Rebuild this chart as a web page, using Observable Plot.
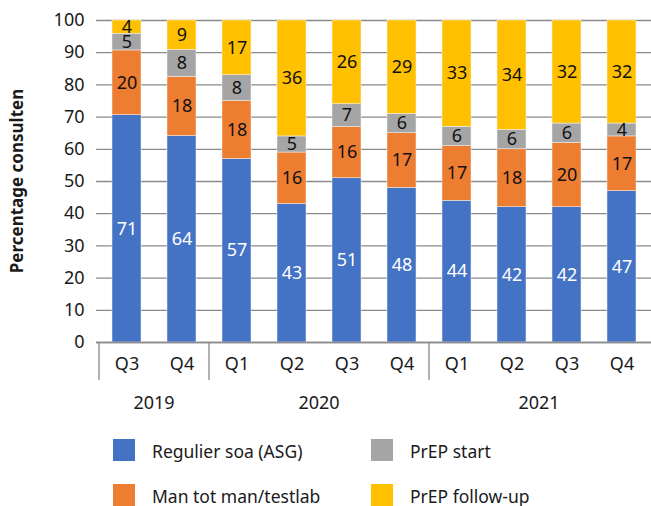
<!DOCTYPE html>
<html><head><meta charset="utf-8">
<script src="https://cdn.jsdelivr.net/npm/d3@7"></script>
<script src="https://cdn.jsdelivr.net/npm/@observablehq/plot@0.6"></script>
<style>body{margin:0;background:#fff;} svg{display:block;}</style>
</head><body><div id="chart"></div>
<script>
const quarters = ["Q3","Q4","Q1","Q2","Q3","Q4","Q1","Q2","Q3","Q4"];
const years = ["2019","2019","2020","2020","2020","2020","2021","2021","2021","2021"];
const seriesNames = ["Regulier soa (ASG)","Man tot man/testlab","PrEP start","PrEP follow-up"];
const seriesColors = ["#4472C4","#ED7D31","#A5A5A5","#FFC000"];
const regulier = [70.6,64.1,57,43,51,48,44,42,42,47];
const manTotMan = [20.1,18.4,18,16,16,17,17,18,20,17];
const prepStart = [5.2,8.4,8,5,7,6,6,6,6,4];
const prepFollowUp = [4.1,9.1,17,36,26,29,33,34,32,32];
const yTicks = [0,10,20,30,40,50,60,70,80,90,100];
const yTitle = "Percentage consulten";

const keys = quarters.map((q,i)=>years[i]+" "+q);
const seriesValues = [regulier, manTotMan, prepStart, prepFollowUp];
const data = [];
keys.forEach((k,i)=>seriesNames.forEach((s,j)=>data.push({key:k, series:s, value:seriesValues[j][i]})));

const font = "Noto Sans, Open Sans, sans-serif";
const chart = Plot.plot({
  width:651, height:506, marginTop:20, marginBottom:164, marginLeft:96, marginRight:0,
  style:{fontFamily:font, fontSize:"18px", color:"#1a1a1a", background:"#fff"},
  x:{type:"band", domain:keys, paddingInner:0.48, paddingOuter:0.24, label:null},
  y:{domain:[0,100], label:null},
  color:{domain:seriesNames, range:seriesColors},
  marks:[
    Plot.gridY(yTicks, {stroke:"#8a8a8a", strokeOpacity:1, strokeWidth:1.3}),
    Plot.barY(data, {x:"key", y:"value", fill:"series", order:seriesNames, stroke:"#f4f4f4", strokeWidth:0.5}),
    Plot.text(data, Plot.stackY({x:"key", y:"value", z:"series", order:seriesNames,
      text:d=>d.series===seriesNames[0]?String(Math.round(d.value)):null, fill:"white", fontSize:18})),
    Plot.text(data, Plot.stackY({x:"key", y:"value", z:"series", order:seriesNames,
      text:d=>d.series!==seriesNames[0]?String(Math.round(d.value)):null, fill:"#111", fontSize:18})),
    Plot.ruleY([0], {stroke:"#8a8a8a", strokeWidth:1.3}),
    Plot.axisY(yTicks, {tickSize:0, tickPadding:12, fontSize:18, label:null}),
    Plot.axisX({tickSize:0, tickPadding:15, fontSize:18, label:null, tickFormat:k=>k.split(" ")[1]})
  ]
});
document.getElementById("chart").appendChild(chart);

const svg = d3.select(chart);
const xs = chart.scale("x");
const step = xs.step !== undefined ? xs.step : (xs.range[1]-xs.range[0])/keys.length;
const bw = xs.bandwidth;
const gap = (step - bw)/2;
const y0 = chart.scale("y").apply(0);
const groups = d3.groups(keys.map((k,i)=>({k, y:years[i]})), d=>d.y);
groups.forEach(([yr, ks])=>{
  const x1 = xs.apply(ks[0].k) - gap;
  const x2 = xs.apply(ks[ks.length-1].k) + bw + gap;
  svg.append("line").attr("x1",x1).attr("x2",x1).attr("y1",y0).attr("y2",y0+38)
    .attr("stroke","#8a8a8a").attr("stroke-width",1.3);
  svg.append("text").attr("x",(x1+x2)/2).attr("y",y0+67).attr("text-anchor","middle")
    .attr("font-family",font).attr("font-size",18).attr("fill","#1a1a1a").text(yr);
});

svg.append("text").attr("transform","translate(23,181) rotate(-90)").attr("text-anchor","middle")
  .attr("font-family",font).attr("font-size",17).attr("font-weight","bold").attr("fill","#1a1a1a").text(yTitle);

const legendPos = [[113,439],[113,484],[371,439],[371,484]];
seriesNames.forEach((s,i)=>{
  const [lx,ly] = legendPos[i];
  svg.append("rect").attr("x",lx).attr("y",ly).attr("width",22).attr("height",22).attr("fill",seriesColors[i]);
  svg.append("text").attr("x",lx+39).attr("y",ly+19).attr("text-anchor","start").attr("font-family",font).attr("font-size",17.5)
    .attr("fill","#1a1a1a").text(s);
});
</script></body></html>
